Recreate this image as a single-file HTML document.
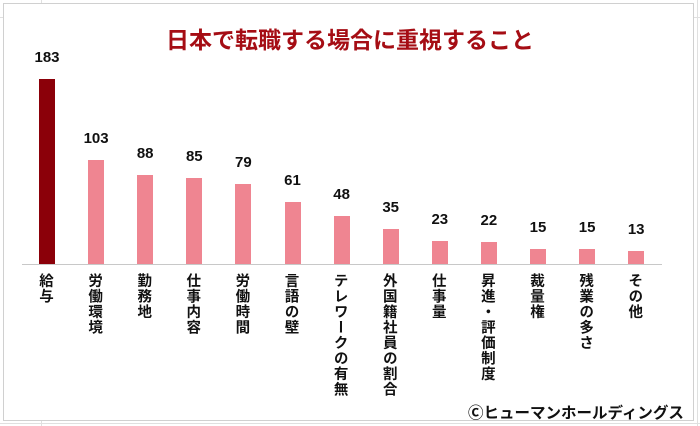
<!DOCTYPE html>
<html><head><meta charset="utf-8"><style>
body{margin:0;width:700px;height:426px;background:#fff;overflow:hidden;position:relative;font-family:"Liberation Sans","Noto Sans CJK JP",sans-serif}
.g{position:absolute;background:#e0e0e0}
.frame{position:absolute;left:3px;top:3px;width:689px;height:416px;border:1px solid #d0d0d0;background:#fff}
.title{position:absolute;left:0;width:700px;top:21px;text-align:center;color:#a50d14;font-size:23px;font-weight:bold;font-family:"Noto Sans CJK JP",sans-serif}
.bar{position:absolute;width:16px;background:#ef8591}
.v{position:absolute;width:50px;text-align:center;font-size:15px;font-weight:bold;color:#111}
.c{position:absolute;writing-mode:vertical-rl;font-size:14.5px;font-weight:bold;color:#111;font-family:"Noto Sans CJK JP",sans-serif;letter-spacing:1px;top:273px;width:20px}
.axis{position:absolute;left:22px;top:264px;width:640px;height:1px;background:#c8c8c8}
.copy{position:absolute;left:468px;top:401px;font-size:15.5px;font-weight:bold;font-family:"Noto Sans CJK JP",sans-serif;color:#111}
</style></head><body>
<div class="g" style="left:0;top:17px;width:700px;height:1px"></div>
<div class="g" style="left:0;top:423px;width:700px;height:1px"></div>
<div class="g" style="left:41px;top:0;width:1px;height:426px"></div>
<div class="g" style="left:697px;top:0;width:1px;height:426px"></div>
<div class="frame"></div>
<div class="title">日本で転職する場合に重視すること</div>
<div class="axis"></div>
<div id="c"></div>
<div class="copy">Ⓒヒューマンホールディングス</div>
<script>
var d=[["給与",183],["労働環境",103],["勤務地",88],["仕事内容",85],["労働時間",79],["言語の壁",61],["テレワークの有無",48],["外国籍社員の割合",35],["仕事量",23],["昇進・評価制度",22],["裁量権",15],["残業の多さ",15],["その他",13]];
var h="";
d.forEach(function(e,i){var cx=47+i*49.1,ht=e[1]*1.01,top=264-ht;
h+='<div class="bar" style="left:'+(cx-8)+'px;top:'+top+'px;height:'+ht+'px;'+(i==0?'background:#8b0009':'')+'"></div>';
h+='<div class="v" style="left:'+(cx-25)+'px;top:'+(top-30)+'px">'+e[1]+'</div>';
h+='<div class="c" style="left:'+(cx-10)+'px">'+e[0]+'</div>';});
document.getElementById("c").innerHTML=h;
</script>
</body></html>
